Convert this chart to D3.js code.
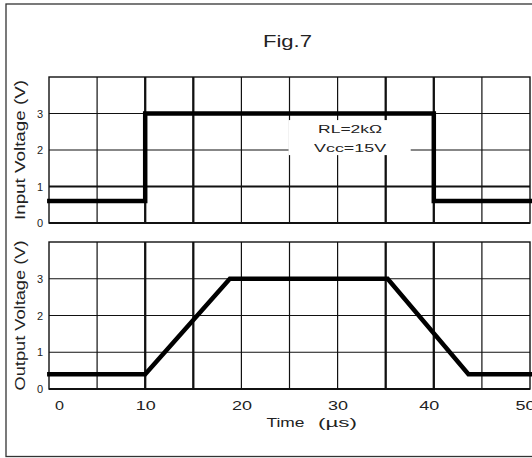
<html>
<head>
<meta charset="utf-8">
<script src="https://d3js.org/d3.v7.min.js"></script>
<style>
  body { margin: 0; background: #fff; }
  text { font-family: "Liberation Sans", Arial, sans-serif; fill: #222; }
</style>
</head>
<body>
<div id="chart"></div>
<script>

// time grid (µs)
var timeGrid = [5, 10, 15, 20, 25, 30, 35, 40, 45];
var timeBold = [10, 15, 35, 40];
var timeLabels = [0, 10, 20, 30, 40, 50];
// voltage grid (V)
var voltGrid = [1, 2, 3];
var voltLabels = [0, 1, 2, 3];
var inputBoldVolt = [1];

// input pulse
var inputTime = [-0.2, 10, 10, 40, 40, 50.3];
var inputVolt = [0.6, 0.6, 3, 3, 0.6, 0.6];

// output response
var outputTime = [-0.2, 10, 18.8, 35.2, 43.6, 50.3];
var outputVolt = [0.4, 0.4, 3, 3, 0.4, 0.4];

var noteLines = ["RL=2kΩ", "Vcc=15V"];

var width = 532, height = 458;

var svg = d3.select("#chart")
  .append("svg")
    .attr("width", width)
    .attr("height", height);

// outer frame
svg.append("rect")
  .attr("x", 6).attr("y", 4)
  .attr("width", 600).attr("height", 452.5)
  .attr("fill", "none")
  .attr("stroke", "#333")
  .attr("stroke-width", 1.3);

svg.append("text")
  .attr("x", 263).attr("y", 47)
  .attr("font-size", 16)
  .attr("textLength", 49)
  .attr("lengthAdjust", "spacingAndGlyphs")
  .text("Fig.7");

var x = d3.scaleLinear().domain([0, 50]).range([49, 530]);

var panels = [
  { title: "Input Voltage (V)", range: [223, 77], time: inputTime, volt: inputVolt,
    bold: inputBoldVolt, titleLen: 140 },
  { title: "Output Voltage (V)", range: [389, 242], time: outputTime, volt: outputVolt,
    bold: [], titleLen: 150 }
];

panels.forEach(function(p, i) {
  var y = d3.scaleLinear().domain([0, 4]).range(p.range);
  var g = svg.append("g");

  // vertical grid
  g.selectAll(".vgrid")
    .data(timeGrid)
    .join("line")
      .attr("x1", x).attr("x2", x)
      .attr("y1", y(0)).attr("y2", y(4))
      .attr("stroke", "#111")
      .attr("stroke-width", function(d) { return timeBold.indexOf(d) >= 0 ? 2.3 : 1.2; });

  // horizontal grid
  g.selectAll(".hgrid")
    .data(voltGrid)
    .join("line")
      .attr("x1", x(0)).attr("x2", x(50))
      .attr("y1", y).attr("y2", y)
      .attr("stroke", "#111")
      .attr("stroke-width", function(d) { return p.bold.indexOf(d) >= 0 ? 2 : 1.2; });

  // plot border
  g.append("rect")
    .attr("x", x(0)).attr("y", y(4))
    .attr("width", x(50) - x(0)).attr("height", y(0) - y(4))
    .attr("fill", "none")
    .attr("stroke", "#111")
    .attr("stroke-width", 1.4);
  g.append("line")
    .attr("x1", x(0)).attr("x2", x(50))
    .attr("y1", y(0)).attr("y2", y(0))
    .attr("stroke", "#111")
    .attr("stroke-width", 2);

  // annotation box in the input panel
  if (i === 0) {
    g.append("rect")
      .attr("x", x(24.9)).attr("y", y(2.82))
      .attr("width", x(37.6) - x(24.9))
      .attr("height", y(1.86) - y(2.82))
      .attr("fill", "#fff");
    g.selectAll(".note")
      .data(noteLines)
      .join("text")
        .attr("x", x(31.3))
        .attr("y", function(d, k) { return y(2.47) + k * 19; })
        .attr("text-anchor", "middle")
        .attr("font-size", 11.5)
        .attr("textLength", function(d, k) { return k === 0 ? 64 : 72; })
        .attr("lengthAdjust", "spacingAndGlyphs")
        .text(function(d) { return d; });
  }

  // signal
  var line = d3.line()
    .x(function(d) { return x(d[0]); })
    .y(function(d) { return y(d[1]); });
  g.append("path")
    .datum(d3.zip(p.time, p.volt))
    .attr("d", line)
    .attr("fill", "none")
    .attr("stroke", "#000")
    .attr("stroke-width", 4.5)
    .attr("stroke-linejoin", "miter");

  // y tick labels
  var yAxis = g.append("g")
    .attr("transform", "translate(" + x(0) + ",0)")
    .call(d3.axisLeft(y).tickValues(voltLabels).tickSize(0).tickPadding(6)
      .tickFormat(d3.format("d")));
  yAxis.select(".domain").remove();
  yAxis.selectAll("text")
    .attr("font-family", null)
    .attr("font-size", 11)
    .attr("fill", "#222");

  // y title
  g.append("text")
    .attr("transform", "translate(25," + ((p.range[0] + p.range[1]) / 2) + ")rotate(-90)")
    .attr("text-anchor", "middle")
    .attr("font-size", 15)
    .attr("textLength", p.titleLen)
    .attr("lengthAdjust", "spacingAndGlyphs")
    .text(p.title);

  // x tick labels on the output panel
  if (i === 1) {
    var xAxis = g.append("g")
      .attr("transform", "translate(0," + y(0) + ")")
      .call(d3.axisBottom(x).tickValues(timeLabels).tickSize(0).tickFormat(d3.format("d")));
    xAxis.select(".domain").remove();
    xAxis.selectAll("text")
      .attr("font-family", null)
      .attr("font-size", 12)
      .attr("fill", "#222")
      .attr("y", 21).attr("dy", 0)
      .attr("dx", function(d) { return d === 0 ? 10 : (d >= 40 ? -5 : 0); })
      .attr("textLength", function(d) { return String(d).length === 1 ? 9 : 20; })
      .attr("lengthAdjust", "spacingAndGlyphs");

    svg.append("text")
      .attr("x", 266.5).attr("y", 427)
      .attr("font-size", 12)
      .attr("textLength", 38)
      .attr("lengthAdjust", "spacingAndGlyphs")
      .text("Time");
    svg.append("text")
      .attr("x", 318).attr("y", 427)
      .attr("font-size", 12)
      .attr("textLength", 39)
      .attr("lengthAdjust", "spacingAndGlyphs")
      .text("(µs)");
  }
});

</script>
</body>
</html>
